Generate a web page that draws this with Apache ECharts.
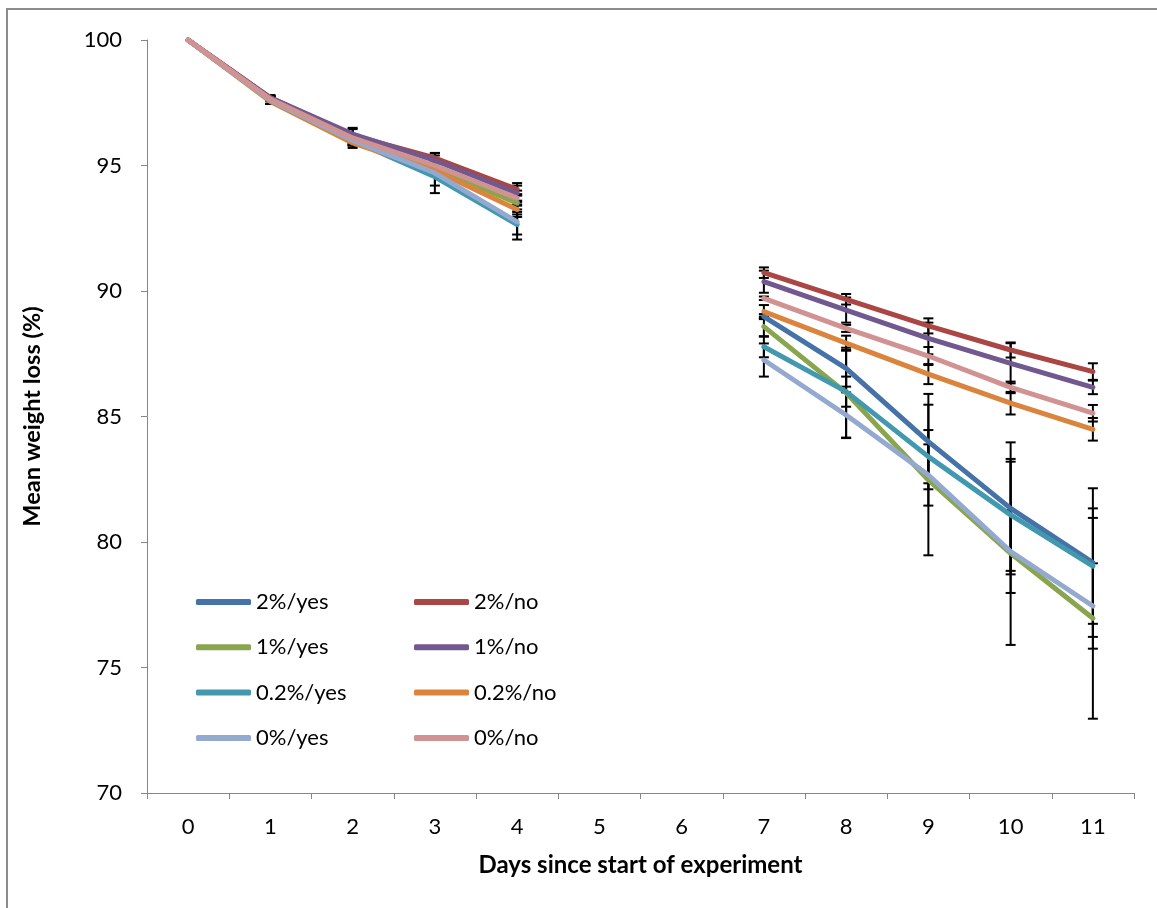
<!DOCTYPE html>
<html>
<head>
<meta charset="utf-8">
<script src="https://cdn.jsdelivr.net/npm/echarts@6/dist/echarts.min.js"></script>
<style>
  html, body { margin: 0; padding: 0; background: #fff; }
  #chart { width: 1157px; height: 908px; }
</style>
</head>
<body>
<div id="chart"></div>
<script>
// Days on the x axis (no measurements on days 5 and 6)
const days = ['0', '1', '2', '3', '4', '5', '6', '7', '8', '9', '10', '11'];
const yTicks = [70, 75, 80, 85, 90, 95, 100];

// Mean weight (%) per treatment
const yes2  = [100, 97.6, 96.05, 94.9, 93.55, null, null, 88.98, 86.92, 84.0, 81.34, 79.18];
const yes1  = [100, 97.6, 96.0, 94.9, 93.5, null, null, 88.58, 85.94, 82.47, 79.55, 76.96];
const yes02 = [100, 97.6, 96.0, 94.55, 92.65, null, null, 87.78, 85.99, 83.4, 81.08, 79.04];
const yes0  = [100, 97.6, 96.0, 94.7, 92.75, null, null, 87.25, 85.06, 82.67, 79.62, 77.45];
const no2   = [100, 97.7, 96.2, 95.3, 94.05, null, null, 90.73, 89.67, 88.61, 87.65, 86.79];
const no1   = [100, 97.7, 96.25, 95.2, 93.9, null, null, 90.37, 89.24, 88.11, 87.12, 86.16];
const no02  = [100, 97.55, 95.9, 94.8, 93.25, null, null, 89.18, 87.92, 86.69, 85.53, 84.49];
const no0   = [100, 97.65, 96.1, 95.0, 93.7, null, null, 89.71, 88.51, 87.41, 86.16, 85.13];

// Error (±) per treatment
const errYes2  = [0, 0.15, 0.2, 0.2, 0.3, null, null, 0.1, 0.73, 1.9, 2.63, 2.96];
const errYes1  = [0, 0.15, 0.2, 0.25, 0.35, null, null, 0.4, 1.8, 3.0, 3.65, 4.0];
const errYes02 = [0, 0.15, 0.2, 0.35, 0.4, null, null, 0.42, 0.6, 1.06, 2.23, 2.3];
const errYes0  = [0, 0.15, 0.2, 0.8, 0.7, null, null, 0.66, 0.9, 1.22, 1.65, 1.7];
const errNo2   = [0, 0.1, 0.3, 0.2, 0.25, null, null, 0.21, 0.21, 0.3, 0.3, 0.33];
const errNo1   = [0, 0.1, 0.2, 0.2, 0.3, null, null, 0.44, 0.5, 0.63, 0.8, 0.27];
const errNo02  = [0, 0.1, 0.2, 0.2, 0.3, null, null, 0.26, 0.3, 0.4, 0.45, 0.45];
const errNo0   = [0, 0.1, 0.15, 0.2, 0.3, null, null, 0.07, 0.14, 0.36, 0.23, 0.33];

const treatments = [
  { name: '2%/yes',   color: '#4572A7', values: yes2,  err: errYes2 },
  { name: '2%/no',    color: '#AA4643', values: no2,   err: errNo2 },
  { name: '1%/yes',   color: '#89A54E', values: yes1,  err: errYes1 },
  { name: '1%/no',    color: '#71588F', values: no1,   err: errNo1 },
  { name: '0.2%/yes', color: '#4198AF', values: yes02, err: errYes02 },
  { name: '0.2%/no',  color: '#DB843D', values: no02,  err: errNo02 },
  { name: '0%/yes',   color: '#93A9CF', values: yes0,  err: errYes0 },
  { name: '0%/no',    color: '#D19392', values: no0,   err: errNo0 }
];

const FONT = 'Lato, "Open Sans", sans-serif';
const AXIS_GRAY = '#868686';

// Error bar data: [dayIndex, mean, error]
const errorData = [];
treatments.forEach(t => {
  t.values.forEach((v, i) => {
    const e = t.err[i];
    if (v != null && e) errorData.push([i, v, e]);
  });
});

const chart = echarts.init(document.getElementById('chart'), null, { renderer: 'canvas' });

const series = treatments.map(t => ({
  name: t.name,
  type: 'line',
  data: t.values,
  symbol: 'none',
  connectNulls: false,
  z: 3,
  lineStyle: { color: t.color, width: 5, cap: 'round', join: 'round' },
  itemStyle: { color: t.color }
}));

series.push({
  type: 'custom',
  name: 'error',
  z: 2,
  data: errorData,
  encode: { x: 0, y: 1 },
  renderItem: function (params, api) {
    const x = api.value(0), v = api.value(1), e = api.value(2);
    const top = api.coord([x, v + e]);
    const bot = api.coord([x, v - e]);
    const half = 5;
    const style = { stroke: '#000', lineWidth: 2 };
    return {
      type: 'group',
      children: [
        { type: 'line', shape: { x1: top[0], y1: top[1], x2: bot[0], y2: bot[1] }, style },
        { type: 'line', shape: { x1: top[0] - half, y1: top[1], x2: top[0] + half, y2: top[1] }, style },
        { type: 'line', shape: { x1: bot[0] - half, y1: bot[1], x2: bot[0] + half, y2: bot[1] }, style }
      ]
    };
  }
});

const legendCommon = {
  orient: 'vertical',
  icon: 'roundRect',
  itemWidth: 55,
  itemHeight: 6,
  itemGap: 21.3,
  textStyle: { fontFamily: FONT, fontSize: 22, color: '#000', lineHeight: 24 },
  selectedMode: false
};

chart.setOption({
  animation: false,
  backgroundColor: '#fff',
  graphic: [{
    type: 'rect',
    shape: { x: 7, y: 9, width: 1200, height: 950 },
    style: { fill: 'none', stroke: '#8c8c8c', lineWidth: 2 },
    silent: true
  }],
  grid: { left: 147, right: 23, top: 40, bottom: 115 },
  legend: [
    Object.assign({}, legendCommon, {
      left: 191, top: 585,
      data: ['2%/yes', '1%/yes', '0.2%/yes', '0%/yes']
    }),
    Object.assign({}, legendCommon, {
      left: 409, top: 585,
      data: ['2%/no', '1%/no', '0.2%/no', '0%/no']
    })
  ],
  xAxis: {
    type: 'category',
    data: days,
    boundaryGap: true,
    name: 'Days since start of experiment',
    nameLocation: 'middle',
    nameGap: 60,
    nameTextStyle: { fontFamily: FONT, fontSize: 24, fontWeight: 'bold', color: '#000' },
    axisLine: { lineStyle: { color: AXIS_GRAY, width: 1 } },
    axisTick: { show: true, alignWithLabel: false, length: 6, lineStyle: { color: AXIS_GRAY } },
    axisLabel: { fontFamily: FONT, fontSize: 22, color: '#000', margin: 23 },
    splitLine: { show: false }
  },
  yAxis: {
    type: 'value',
    min: yTicks[0],
    max: yTicks[yTicks.length - 1],
    interval: 5,
    name: 'Mean weight loss (%)',
    nameLocation: 'middle',
    nameGap: 103,
    nameRotate: 90,
    nameTextStyle: { fontFamily: FONT, fontSize: 23.5, fontWeight: 'bold', color: '#000' },
    axisLine: { show: true, lineStyle: { color: AXIS_GRAY, width: 1 } },
    axisTick: { show: true, length: 6, lineStyle: { color: AXIS_GRAY } },
    axisLabel: { fontFamily: FONT, fontSize: 22, color: '#000', margin: 25 },
    splitLine: { show: false }
  },
  series: series
});
</script>
</body>
</html>
